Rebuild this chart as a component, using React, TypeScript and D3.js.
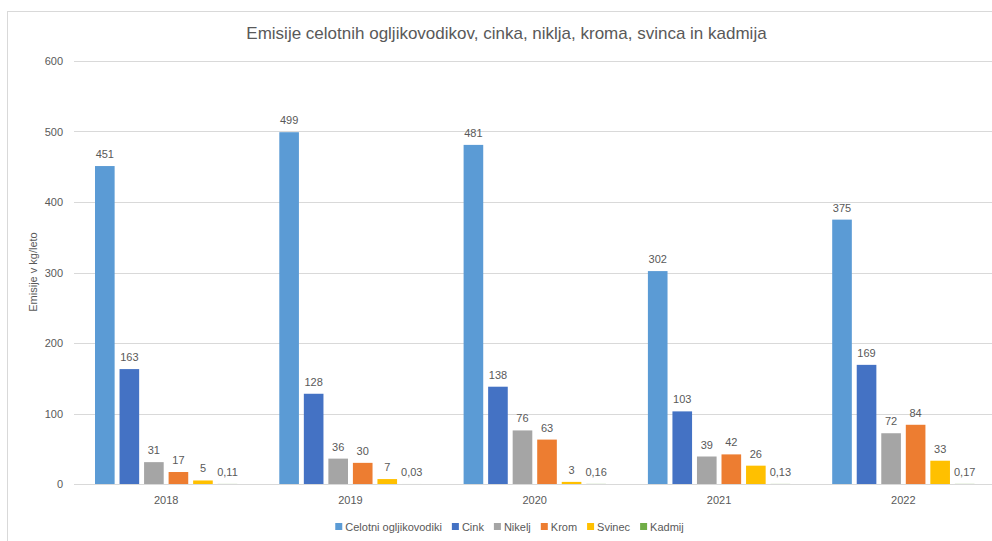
import React, { useEffect, useRef } from "react";
import * as d3 from "d3";

const years = ["2018", "2019", "2020", "2021", "2022"];
const seriesNames = ["Celotni ogljikovodiki", "Cink", "Nikelj", "Krom", "Svinec", "Kadmij"];
const seriesColors = ["#5B9BD5", "#4472C4", "#A5A5A5", "#ED7D31", "#FFC000", "#70AD47"];

const celotni = [451, 499, 481, 302, 375];
const cink = [163, 128, 138, 103, 169];
const nikelj = [31, 36, 76, 39, 72];
const krom = [17, 30, 63, 42, 84];
const svinec = [5, 7, 3, 26, 33];
const kadmij = [0.11, 0.03, 0.16, 0.13, 0.17];

const yTicks = [0, 100, 200, 300, 400, 500, 600];

const App = () => {
  const chartRef = useRef(null);

  useEffect(() => {
    const values = [celotni, cink, nikelj, krom, svinec, kadmij];
    const width = 992;
    const height = 541;
    const font = "'Liberation Sans', Arial, sans-serif";
    const textColor = "#595959";
    const gridColor = "#d9d9d9";

    const svg = d3.select(chartRef.current);
    svg.selectAll("*").remove();
    svg.attr("width", width).attr("height", height);

    svg
      .append("rect")
      .attr("width", width)
      .attr("height", height)
      .attr("fill", "white");

    // outer chart frame
    svg
      .append("rect")
      .attr("x", 7.5)
      .attr("y", 11.5)
      .attr("width", 1000)
      .attr("height", 540)
      .attr("fill", "white")
      .attr("stroke", gridColor);

    const plotLeft = 74;
    const plotRight = 995.5;

    const x0 = d3.scaleBand().domain(years).range([plotLeft, plotRight]);
    const x1 = d3
      .scaleBand()
      .domain(seriesNames)
      .range([21, x0.bandwidth() - 21])
      .paddingInner(0.2);
    const y = d3.scaleLinear().domain([0, 600]).range([484, 61]);

    // gridlines
    svg
      .append("g")
      .selectAll("line")
      .data(yTicks)
      .join("line")
      .attr("x1", plotLeft)
      .attr("x2", width)
      .attr("y1", (d) => Math.round(y(d)) + 0.5)
      .attr("y2", (d) => Math.round(y(d)) + 0.5)
      .attr("stroke", gridColor)
      .attr("stroke-width", 1);

    // y tick labels
    svg
      .append("g")
      .selectAll("text")
      .data(yTicks)
      .join("text")
      .attr("x", 63)
      .attr("y", (d) => y(d) + 4)
      .attr("text-anchor", "end")
      .attr("font-family", font)
      .attr("font-size", 11)
      .attr("fill", textColor)
      .text((d) => d);

    // x labels
    svg
      .append("g")
      .selectAll("text")
      .data(years)
      .join("text")
      .attr("x", (d) => x0(d) + x0.bandwidth() / 2)
      .attr("y", 504)
      .attr("text-anchor", "middle")
      .attr("font-family", font)
      .attr("font-size", 11)
      .attr("fill", textColor)
      .text((d) => d);

    const fmt = (v) => String(v).replace(".", ",");

    // bars + labels
    seriesNames.forEach((name, si) => {
      const g = svg.append("g");
      const rows = years.map((yr, i) => ({ yr, v: values[si][i] }));
      g.selectAll("rect")
        .data(rows)
        .join("rect")
        .attr("x", (d) => x0(d.yr) + x1(name))
        .attr("y", (d) => y(d.v))
        .attr("width", x1.bandwidth())
        .attr("height", (d) => y(0) - y(d.v))
        .attr("fill", seriesColors[si]);
      g.selectAll("text")
        .data(rows)
        .join("text")
        .attr("x", (d) => x0(d.yr) + x1(name) + x1.bandwidth() / 2)
        .attr("y", (d) => y(d.v) - 8)
        .attr("text-anchor", "middle")
        .attr("font-family", font)
        .attr("font-size", 11)
        .attr("fill", textColor)
        .text((d) => fmt(d.v));
    });

    // title
    svg
      .append("text")
      .attr("x", 506.5)
      .attr("y", 39)
      .attr("text-anchor", "middle")
      .attr("font-family", font)
      .attr("font-size", 17)
      .attr("fill", textColor)
      .text("Emisije celotnih ogljikovodikov, cinka, niklja, kroma, svinca in kadmija");

    // y axis title
    svg
      .append("text")
      .attr("transform", "translate(37, 272) rotate(-90)")
      .attr("text-anchor", "middle")
      .attr("font-family", font)
      .attr("font-size", 11)
      .attr("fill", textColor)
      .text("Emisije v kg/leto");

    // legend
    const legend = svg.append("g");
    let cx = 0;
    seriesNames.forEach((name, i) => {
      const item = legend.append("g").attr("transform", `translate(${cx},0)`);
      item
        .append("rect")
        .attr("x", 0)
        .attr("y", -4)
        .attr("width", 7)
        .attr("height", 7)
        .attr("fill", seriesColors[i]);
      const t = item
        .append("text")
        .attr("x", 10)
        .attr("y", 4)
        .attr("font-family", font)
        .attr("font-size", 11)
        .attr("fill", textColor)
        .text(name);
      cx += 10 + t.node().getComputedTextLength() + 10;
    });
    const legendW = cx - 10;
    legend.attr("transform", `translate(${509.5 - legendW / 2},527)`);
  });

  return (
    <div style={{ position: "absolute", left: 0, top: 0 }}>
      <svg ref={chartRef} style={{ display: "block" }}></svg>
    </div>
  );
};

export default App;
